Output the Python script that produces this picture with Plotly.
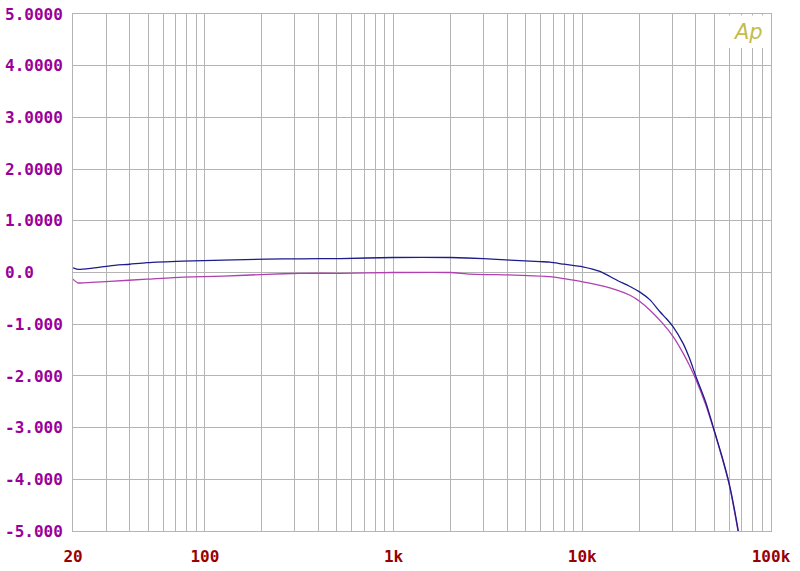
import plotly.graph_objects as go

# Frequencies (Hz) and responses (dB)
freq_blue = [20, 21.2, 25, 31.4, 40, 49.3, 76.6, 125, 213, 320, 520, 1000, 2000, 3000,
             4140, 5980, 6745, 8000, 10050, 12400, 15270, 17900, 20200, 22850, 25800,
             28000, 30300, 34200, 37000, 40100, 45000, 50000, 55000, 60000, 66500, 69000]
blue = [0.09, 0.06, 0.08, 0.13, 0.16, 0.19, 0.22, 0.24, 0.26, 0.265, 0.27, 0.29, 0.29, 0.27,
        0.24, 0.21, 0.20, 0.16, 0.11, 0.02, -0.15, -0.27, -0.38, -0.53, -0.76,
        -0.9, -1.05, -1.37, -1.66, -2.02, -2.5, -3.05, -3.56, -4.08, -4.92, -5.3]

freq_mag = [20, 21.2, 25, 31.4, 49.3, 76.6, 125, 213, 320, 520, 1000, 2000, 2540, 4400,
            6745, 8000, 10050, 12400, 15270, 17900, 20200, 22850, 26600, 30300, 34200,
            37000, 40100, 45000, 50000, 55000, 60000, 66500, 69000]
magenta = [-0.13, -0.2, -0.19, -0.17, -0.13, -0.09, -0.07, -0.035, -0.015, -0.015, 0.0, 0.0,
           -0.03, -0.05, -0.08, -0.12, -0.18, -0.25, -0.34, -0.44, -0.56, -0.73, -0.98,
           -1.24, -1.56, -1.8, -2.08, -2.55, -3.07, -3.58, -4.1, -4.95, -5.3]

x_grid = [20, 30, 40, 50, 60, 70, 80, 90,
          100, 200, 300, 400, 500, 600, 700, 800, 900,
          1000, 2000, 3000, 4000, 5000, 6000, 7000, 8000, 9000,
          10000, 20000, 30000, 40000, 50000, 60000, 70000, 80000, 90000, 100000]
x_labels = {20: "20", 100: "100", 1000: "1k", 10000: "10k", 100000: "100k"}
x_text = [x_labels.get(v, "") for v in x_grid]

y_vals = [5, 4, 3, 2, 1, 0, -1, -2, -3, -4, -5]
NB = "\u00a0"
y_text = ["5.0000", "4.0000", "3.0000", "2.0000", "1.0000", "0.0" + NB * 3,
          "-1.000", "-2.000", "-3.000", "-4.000", "-5.000"]

grid_col = "#b4b4b4"

fig = go.Figure()
fig.add_trace(go.Scatter(x=freq_mag, y=magenta, mode="lines",
                         line=dict(color="#b040b0", width=1.3, shape="spline", smoothing=0.6),
                         showlegend=False))
fig.add_trace(go.Scatter(x=freq_blue, y=blue, mode="lines",
                         line=dict(color="#1c1c8c", width=1.3, shape="spline", smoothing=0.6),
                         showlegend=False))

fig.update_layout(
    width=800, height=571,
    margin=dict(l=73, r=29, t=14, b=40),
    paper_bgcolor="white", plot_bgcolor="white",
    xaxis=dict(type="log", range=[1.30103, 5], tickvals=x_grid, ticktext=x_text,
               showgrid=True, gridcolor=grid_col, gridwidth=1,
               showline=True, linecolor=grid_col, linewidth=1, mirror=True,
               ticks="", zeroline=False, ticklabelstandoff=11, automargin=False,
               tickfont=dict(family="DejaVu Sans Mono", size=16, color="#990000", weight="bold")),
    yaxis=dict(range=[-5, 5], tickvals=y_vals, ticktext=y_text,
               showgrid=True, gridcolor=grid_col, gridwidth=1,
               showline=True, linecolor=grid_col, linewidth=1, mirror=True,
               ticks="", zeroline=False, ticklabelstandoff=6, automargin=False,
               tickfont=dict(family="DejaVu Sans Mono", size=16, color="#990099", weight="bold")),
    shapes=[dict(type="rect", xref="paper", yref="paper",
                 x0=0.925, x1=0.9985, y0=0.934, y1=0.997,
                 fillcolor="white", line=dict(width=0), layer="above")],
    annotations=[dict(text="Ap", xref="paper", yref="paper", x=0.967, y=0.965,
                      xanchor="center", yanchor="middle", showarrow=False,
                      font=dict(family="DejaVu Sans", size=21, color="#c4bc4c", style="italic"))],
)

fig.write_html("out.html", config={"displayModeBar": False},
               post_script="document.body.style.margin='0';document.body.style.overflow='hidden';")
